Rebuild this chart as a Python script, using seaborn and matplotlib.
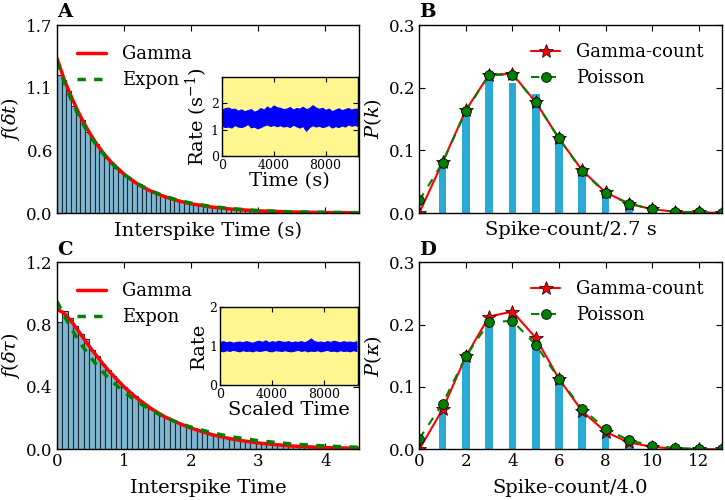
import numpy as np
import pandas as pd
import matplotlib
matplotlib.use('Agg')
import matplotlib.pyplot as plt
from matplotlib.ticker import FormatStrFormatter
import seaborn as sns

# interspike-interval histograms (panel A bins 0.07 s, panel C bins 0.08)
bin_a = 0.07
hist_a = [1.25, 1.20, 1.10, 0.97, 0.90, 0.84, 0.73, 0.66, 0.62, 0.55,
          0.50, 0.45, 0.41, 0.37, 0.34, 0.31, 0.28, 0.26, 0.23, 0.21,
          0.19, 0.175, 0.16, 0.15, 0.13, 0.12, 0.11, 0.10, 0.09, 0.082,
          0.074, 0.067, 0.061, 0.055, 0.050, 0.046, 0.041, 0.038, 0.034, 0.031,
          0.028, 0.026, 0.023, 0.021, 0.019, 0.017, 0.016, 0.014, 0.013, 0.012,
          0.011, 0.010, 0.009, 0.008, 0.007, 0.007, 0.006, 0.006, 0.005, 0.005,
          0.004, 0.004, 0.003, 0.003]
bin_c = 0.08
hist_c = [0.82, 0.89, 0.84, 0.79, 0.74, 0.71, 0.64, 0.60, 0.55, 0.51,
          0.47, 0.43, 0.40, 0.37, 0.34, 0.31, 0.285, 0.26, 0.24, 0.22,
          0.20, 0.185, 0.17, 0.155, 0.14, 0.135, 0.12, 0.11, 0.10, 0.09,
          0.083, 0.076, 0.069, 0.063, 0.057, 0.052, 0.047, 0.043, 0.039, 0.035,
          0.032, 0.029, 0.026, 0.024, 0.021, 0.019, 0.017, 0.016, 0.014, 0.013,
          0.012, 0.011, 0.010, 0.009, 0.008, 0.007]

# fitted densities
curve_x = [0, 0.1, 0.2, 0.3, 0.4, 0.5, 0.6, 0.7, 0.8, 1.0, 1.2, 1.4, 1.6,
           1.8, 2.0, 2.3, 2.6, 3.0, 3.5, 4.0, 4.5]
gamma_a = [1.40, 1.22, 1.07, 0.935, 0.815, 0.71, 0.615, 0.535, 0.465, 0.35, 0.262,
           0.197, 0.148, 0.111, 0.083, 0.054, 0.035, 0.019, 0.009, 0.004, 0.002]
expon_a = [1.37, 1.195, 1.042, 0.908, 0.792, 0.690, 0.602, 0.525, 0.458, 0.348, 0.265,
           0.201, 0.153, 0.116, 0.089, 0.059, 0.039, 0.022, 0.011, 0.006, 0.003]
gamma_c = [0.90, 0.875, 0.83, 0.77, 0.71, 0.65, 0.595, 0.54, 0.49, 0.40, 0.325,
           0.262, 0.21, 0.17, 0.135, 0.095, 0.066, 0.04, 0.021, 0.011, 0.006]
expon_c = [0.95, 0.864, 0.785, 0.714, 0.649, 0.590, 0.537, 0.488, 0.444, 0.367, 0.304,
           0.251, 0.207, 0.171, 0.142, 0.107, 0.080, 0.055, 0.034, 0.021, 0.013]

# spike-count distributions
k_vals = list(range(14))
bar_k = list(range(1, 13))
bars_b = [0.078, 0.159, 0.218, 0.207, 0.190, 0.116, 0.063, 0.031, 0.012, 0.004, 0.001, 0.0005]
gamma_b = [0.0, 0.081, 0.164, 0.221, 0.222, 0.177, 0.119, 0.068, 0.033, 0.015, 0.006, 0.002, 0.001, 0.0003]
poisson_b = [0.02, 0.080, 0.163, 0.220, 0.221, 0.177, 0.119, 0.067, 0.032, 0.015, 0.006, 0.002, 0.001, 0.0003]
bars_d = [0.062, 0.145, 0.205, 0.215, 0.165, 0.108, 0.058, 0.025, 0.010, 0.003, 0.001, 0.0005]
gamma_d = [0.0, 0.064, 0.149, 0.213, 0.221, 0.179, 0.113, 0.061, 0.028, 0.011, 0.004, 0.001, 0.0003, 0.0]
poisson_d = [0.017, 0.073, 0.149, 0.204, 0.206, 0.168, 0.113, 0.065, 0.033, 0.0145, 0.006, 0.002, 0.0007, 0.0002]

# rate traces (upper / lower edge of the noisy band), every 250 time units
rate_a_hi = [1.75, 1.82, 1.84, 1.78, 1.80, 1.72, 1.77, 1.70, 1.74, 1.78,
             1.68, 1.73, 1.82, 1.76, 1.88, 1.80, 1.92, 1.85, 1.83, 1.78,
             1.80, 1.86, 1.76, 1.82, 1.80, 1.87, 1.78, 1.82, 1.93, 1.84,
             1.79, 1.83, 1.75, 1.80, 1.70, 1.76, 1.81, 1.74, 1.78, 1.82,
             1.76, 1.80, 1.79]
rate_a_lo = [1.15, 1.10, 1.12, 1.08, 1.18, 1.12, 1.10, 1.14, 1.22, 1.09,
             1.12, 1.05, 1.10, 1.16, 1.20, 1.14, 1.18, 1.13, 1.17, 1.12,
             1.15, 1.10, 1.19, 1.13, 1.08, 1.14, 0.96, 1.10, 1.17, 1.12,
             1.15, 1.10, 1.13, 1.18, 1.08, 1.14, 1.10, 1.16, 1.12, 1.20,
             1.15, 1.18, 1.14]
rate_c_hi = [1.10, 1.12, 1.09, 1.11, 1.08, 1.10, 1.11, 1.09, 1.12, 1.10,
             1.08, 1.11, 1.13, 1.10, 1.14, 1.09, 1.12, 1.10, 1.13, 1.11,
             1.10, 1.12, 1.09, 1.11, 1.10, 1.12, 1.09, 1.13, 1.19, 1.12,
             1.10, 1.11, 1.09, 1.12, 1.10, 1.13, 1.11, 1.09, 1.12, 1.10,
             1.11, 1.09, 1.12]
rate_c_lo = [0.88, 0.86, 0.89, 0.87, 0.90, 0.88, 0.86, 0.89, 0.87, 0.88,
             0.86, 0.89, 0.87, 0.88, 0.90, 0.87, 0.86, 0.89, 0.88, 0.87,
             0.89, 0.87, 0.86, 0.88, 0.90, 0.87, 0.89, 0.86, 0.88, 0.87,
             0.89, 0.86, 0.88, 0.90, 0.87, 0.88, 0.86, 0.89, 0.87, 0.88,
             0.86, 0.89, 0.87]
trace_step = 250

sns.set_style('ticks', {'xtick.direction': 'in', 'ytick.direction': 'in',
                        'xtick.top': True, 'ytick.right': True,
                        'axes.edgecolor': 'black', 'xtick.color': 'black',
                        'ytick.color': 'black', 'text.color': 'black',
                        'axes.labelcolor': 'black'})
plt.rcParams['font.family'] = ['DejaVu Serif']
plt.rcParams['mathtext.fontset'] = 'dejavuserif'
plt.rcParams['xtick.major.size'] = 4.5
plt.rcParams['ytick.major.size'] = 4.5
plt.rcParams['xtick.major.pad'] = 3
plt.rcParams['ytick.major.pad'] = 3
plt.rcParams['axes.linewidth'] = 1.0

hist_col = '#7fb7d0'
hist_edge = '#1c2c36'
bar_col = '#2aabd6'
inset_col = '#fff68f'
dash = (0, (2.4, 2.4))

fig = plt.figure(figsize=(7.25, 5.0), dpi=100)
axA = fig.add_axes([0.0786, 0.574, 0.4166, 0.376])
axB = fig.add_axes([0.5783, 0.574, 0.4175, 0.376])
axC = fig.add_axes([0.0786, 0.1014, 0.4166, 0.374])
axD = fig.add_axes([0.5783, 0.1014, 0.4175, 0.374])


def isi_panel(ax, hist, bw, gam, exp, ymax, ylab, xlab, show_x):
    df = pd.DataFrame({'t': (np.arange(len(hist)) + 0.5) * bw, 'dens': hist})
    sns.histplot(data=df, x='t', weights='dens', binwidth=bw,
                 binrange=(0, len(hist) * bw), stat='count', color=hist_col,
                 edgecolor=hist_edge, linewidth=0.8, alpha=1, ax=ax)
    sns.lineplot(x=curve_x, y=gam, color='red', lw=2.5, label='Gamma', ax=ax)
    sns.lineplot(x=curve_x, y=exp, color='green', lw=2.5, linestyle=dash,
                 label='Expon', ax=ax)
    ax.set_xlim(0, 4.5)
    ax.set_ylim(0, ymax)
    ax.set_xticks([0, 1, 2, 3, 4])
    ax.set_yticks(np.linspace(0, ymax, 4))
    ax.yaxis.set_major_formatter(FormatStrFormatter('%.1f'))
    ax.tick_params(labelsize=12, labelbottom=show_x)
    ax.set_ylabel(ylab, fontsize=14, labelpad=3)
    ax.set_xlabel(xlab, fontsize=14, labelpad=6)
    ax.legend(loc='upper left', frameon=False, fontsize=13, handlelength=1.6,
              handletextpad=0.9, labelspacing=0.45, borderaxespad=0.7)


def count_panel(ax, bars, gam, poi, ylab, xlab, show_x):
    sns.barplot(x=bar_k, y=bars, native_scale=True, width=0.33, color=bar_col,
                saturation=1, linewidth=0, errorbar=None, ax=ax)
    sns.lineplot(x=k_vals, y=gam, color='red', lw=1.5, marker='*', markersize=10,
                 markeredgecolor='black', markeredgewidth=0.5,
                 label='Gamma-count', ax=ax)
    sns.lineplot(x=k_vals, y=poi, color='green', lw=1.5, linestyle=(0, (4, 4)),
                 marker='o', markersize=7, markeredgecolor='black',
                 markeredgewidth=0.6, label='Poisson', ax=ax)
    ax.set_xlim(0, 13)
    ax.set_ylim(0, 0.3)
    ax.set_xticks([0, 2, 4, 6, 8, 10, 12])
    ax.set_yticks([0, 0.1, 0.2, 0.3])
    ax.yaxis.set_major_formatter(FormatStrFormatter('%.1f'))
    ax.tick_params(labelsize=12, labelbottom=show_x)
    ax.set_ylabel(ylab, fontsize=14, labelpad=3)
    ax.set_xlabel(xlab, fontsize=14, labelpad=6)
    ax.legend(loc='upper right', frameon=False, fontsize=13, handlelength=1.6,
              handletextpad=0.9, labelspacing=0.45, borderaxespad=0.6)


isi_panel(axA, hist_a, bin_a, gamma_a, expon_a, 1.7, r'$f(\delta t)$',
          'Interspike Time (s)', False)
isi_panel(axC, hist_c, bin_c, gamma_c, expon_c, 1.2, r'$f(\delta \tau)$',
          'Interspike Time', True)
count_panel(axB, bars_b, gamma_b, poisson_b, r'$P(k)$', 'Spike-count/2.7 s', False)
count_panel(axD, bars_d, gamma_d, poisson_d, r'$P(\kappa)$', 'Spike-count/4.0', True)

for ax, lab in zip([axA, axB, axC, axD], 'ABCD'):
    ax.text(0.0, 1.02, lab, transform=ax.transAxes, fontsize=14,
            fontweight='bold', ha='left', va='bottom')


def rate_inset(rect, hi, lo, xmax, ymax, ylab, xlab):
    ins = fig.add_axes(rect)
    ins.set_facecolor(inset_col)
    t = np.arange(len(hi)) * trace_step
    ins.fill_between(t, lo, hi, color='blue', lw=0.8, edgecolor='blue')
    ins.set_xlim(0, xmax)
    ins.set_ylim(0, ymax)
    ins.set_xticks([0, 4000, 8000])
    ins.set_yticks([0, 1, 2])
    ins.tick_params(labelsize=9, pad=2, length=3.5)
    ins.set_ylabel(ylab, fontsize=14, labelpad=1)
    ins.set_xlabel(xlab, fontsize=14, labelpad=0)
    return ins


rate_inset([0.3058, 0.688, 0.188, 0.158], rate_a_hi, rate_a_lo, 10500, 3,
           r'Rate (s$^{-1}$)', 'Time (s)')
rate_inset([0.3034, 0.23, 0.19, 0.1566], rate_c_hi, rate_c_lo, 10600, 2,
           'Rate', 'Scaled Time')

fig.savefig('out.png', dpi=100)
